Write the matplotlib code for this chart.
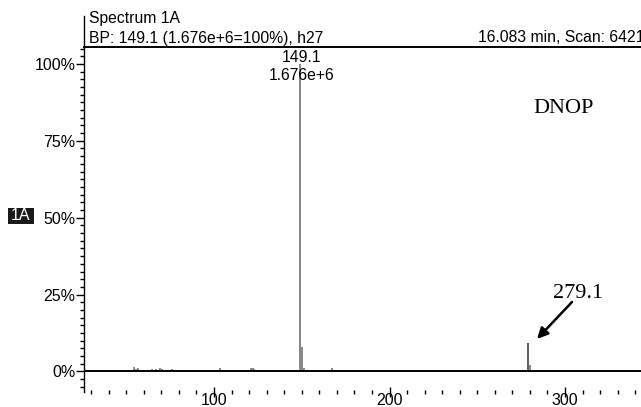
import matplotlib
matplotlib.use("Agg")
import matplotlib.pyplot as plt
from matplotlib.lines import Line2D
from matplotlib.patches import Rectangle
from matplotlib.ticker import MultipleLocator, FixedLocator

plt.rcParams['font.family'] = ['Liberation Sans', 'DejaVu Sans']

# ---- data ----
mz = [50.8, 54.6, 55.6, 56.9, 64.4, 67.0, 69.0, 70.4, 72.0, 73.4, 76.0, 82.5, 84.0,
      92.6, 103.6, 104.7, 110.4, 121.0, 122.0, 123.0, 149.1, 150.0, 151.0, 167.4,
      176.0, 190.0, 194.6, 204.5, 207.0, 209.0, 259.0, 261.0, 263.0, 279.1, 280.1,
      295.0, 325.6]
intensity = [0.4, 1.5, 0.8, 1.1, 0.8, 0.8, 1.1, 0.8, 0.5, 0.4, 0.8, 0.4, 0.4,
             0.4, 1.1, 0.5, 0.4, 1.1, 1.1, 0.8, 100.0, 7.8, 1.2, 1.2,
             0.4, 0.3, 0.4, 0.3, 0.4, 0.4, 0.4, 0.6, 0.4, 9.1, 2.2,
             0.4, 0.4]
y_ticks = [0, 25, 50, 75, 100]
y_labels = ["0%", "25%", "50%", "75%", "100%"]
x_ticks = [100, 200, 300]
x_labels = ["100", "200", "300"]

W, H = 641, 407
fig = plt.figure(figsize=(W / 100, H / 100), dpi=100)

def fx(px):
    return px / W

def fy(py):
    return 1 - py / H

ax = fig.add_axes([fx(84), fy(392), fx(641) - fx(84), fy(47) - fy(392)])
ax.set_xlim(25.93, 343.3)
ax.set_ylim(-6.67, 105.5)

colors = ['#333333' if abs(m - 279.1) < 0.5 else '#666666' for m in mz]
ax.vlines(mz, 0, intensity, colors=colors, linewidth=1.1)
ax.axhline(0, color='black', linewidth=1.4)

for s in ['right', 'bottom']:
    ax.spines[s].set_visible(False)
ax.spines['left'].set_linewidth(1.0)
ax.spines['top'].set_linewidth(1.4)

ax.yaxis.set_major_locator(FixedLocator(y_ticks))
ax.set_yticklabels(y_labels)
ax.yaxis.set_minor_locator(MultipleLocator(2.5))
ax.tick_params(axis='y', which='major', length=5.5, width=1, pad=0.8, labelsize=11.5)
ax.tick_params(axis='y', which='minor', length=3, width=1)

ax.xaxis.set_major_locator(FixedLocator(x_ticks))
ax.set_xticklabels(x_labels)
ax.xaxis.set_minor_locator(MultipleLocator(10))
ax.tick_params(axis='x', which='major', direction='inout', length=7, width=1,
               pad=-3, labelsize=11.5)
ax.tick_params(axis='x', which='minor', direction='inout', length=2.5, width=1)

# annotations
ax.text(149.1 + 0.8, 102.0, "149.1", ha='center', va='center', fontsize=11.3)
ax.text(149.1 + 0.8, 96.2, "1.676e+6", ha='center', va='center', fontsize=11.3)
ax.text(281.8, 85.5, "DNOP", ha='left', va='center', fontsize=16,
        family='Liberation Serif')
ax.text(293.2, 25.3, "279.1", ha='left', va='center', fontsize=16,
        family='Liberation Serif')
ax.annotate("", xy=(284.1, 10.6), xytext=(304.0, 22.6),
            arrowprops=dict(arrowstyle='-|>', color='black', lw=1.8,
                            mutation_scale=16, shrinkA=0, shrinkB=0))

# header
fig.add_artist(Line2D([fx(84), fx(84)], [fy(47), fy(16)], color='black', lw=1.0))
fig.text(fx(89), fy(19), "Spectrum 1A", ha='left', va='center', fontsize=11.3)
fig.text(fx(89), fy(38), "BP: 149.1 (1.676e+6=100%), h27", ha='left', va='center',
         fontsize=11.3)
fig.text(fx(478), fy(38), "16.083 min, Scan: 6421", ha='left', va='center',
         fontsize=11.3)

# 1A badge
fig.add_artist(Rectangle((fx(8), fy(224)), fx(34) - fx(8), fy(208) - fy(224),
                         facecolor='#1a1a1a', edgecolor='none'))
fig.text(fx(21), fy(216), "1A", ha='center', va='center', fontsize=11.5, color='white')

fig.savefig("out.png", dpi=100)
